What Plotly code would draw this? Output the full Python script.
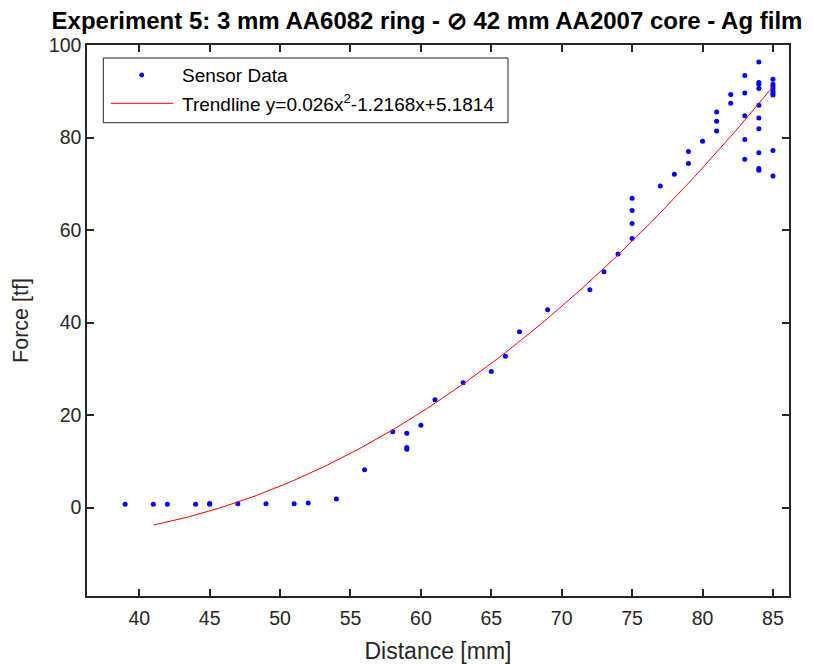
import numpy as np
import plotly.graph_objects as go

distance_mm = [39, 41, 42, 44, 45, 45, 47, 49, 51, 52, 54, 56, 58, 59, 59, 59, 60, 61, 63, 65,
               66, 67, 69, 72, 73, 74, 75, 75, 75, 75, 77, 78, 79, 79, 80, 81, 81, 81, 82, 82,
               83, 83, 83, 83, 83, 84, 84, 84, 84, 84, 84, 84, 84, 84, 84,
               85, 85, 85, 85, 85, 85, 85, 85, 85]
force_tf = [0.73, 0.73, 0.73, 0.73, 0.73, 0.9, 0.86, 0.86, 0.86, 1.0, 1.88, 8.2, 16.4, 16.1, 13.0, 12.6, 17.8, 23.3, 27.0, 29.4,
            32.7, 38.0, 42.8, 47.1, 51.0, 54.8, 58.2, 61.4, 64.2, 66.9, 69.5, 72.05, 74.4, 77.0, 79.2, 81.4, 83.5, 85.5, 87.4, 89.3,
            75.3, 79.6, 84.7, 89.6, 93.4, 72.9, 73.3, 76.7, 81.9, 84.2, 87.0, 90.6, 91.5, 91.9, 96.3,
            71.7, 77.2, 89.2, 89.5, 90.0, 90.5, 91.0, 91.5, 92.6]

x_ticks = [40, 45, 50, 55, 60, 65, 70, 75, 80, 85]
y_ticks = [0, 20, 40, 60, 80, 100]
trend_x_range = [41, 85]

coef = np.polyfit(distance_mm, force_tf, 2)
tx = np.linspace(trend_x_range[0], trend_x_range[1], 200)
ty = np.polyval(coef, tx)

fig = go.Figure()
fig.add_trace(go.Scatter(x=distance_mm, y=force_tf, mode="markers",
                         marker=dict(color="#0000ff", size=5), showlegend=False))
fig.add_trace(go.Scatter(x=tx, y=ty, mode="lines",
                         line=dict(color="#ff0000", width=1), showlegend=False))

FONT = "Liberation Sans, Arial, sans-serif"
axis_common = dict(showline=True, linecolor="#262626", linewidth=1.5, mirror="ticks",
                   ticks="inside", ticklen=7, tickcolor="#262626", tickwidth=1.5,
                   showgrid=False, zeroline=False, automargin=False,
                   tickfont=dict(family=FONT, size=19.5, color="#262626"))

fig.update_xaxes(range=[36.29, 86.14], tickvals=x_ticks, ticklabelstandoff=4,
                 title=dict(text="Distance [mm]", font=dict(family=FONT, size=23, color="#262626"), standoff=18),
                 **axis_common)
fig.update_yaxes(range=[-19.1, 100], tickvals=y_ticks,
                 title=dict(text="Force [tf]", font=dict(family=FONT, size=21.5, color="#262626"), standoff=14),
                 **axis_common)

# page offset (browser body margin) of 8 px
OFF = 8
W, H = 814 - OFF, 664 - OFF
L, T, R, B = 87 - OFF, 45 - OFF, 25, 68
PW, PH = W - L - R, H - T - B

# manual legend box (MATLAB style), positions given in screen pixels
def px2x(px):
    return (px - 87) / PW

def py2y(py):
    return (596 - py) / PH

shapes = [
    dict(type="rect", xref="paper", yref="paper", x0=px2x(103.3), x1=px2x(508), y0=py2y(122.7), y1=py2y(58),
         line=dict(color="#262626", width=1), fillcolor="white", layer="above"),
    dict(type="circle", xref="paper", yref="paper", x0=px2x(139.7), x1=px2x(143.7), y0=py2y(77), y1=py2y(73),
         line=dict(color="#0000ff", width=1), fillcolor="#0000ff", layer="above"),
    dict(type="line", xref="paper", yref="paper", x0=px2x(110.7), x1=px2x(173.3), y0=py2y(103.3), y1=py2y(103.3),
         line=dict(color="#ff0000", width=1), layer="above"),
]
annotations = [
    dict(xref="paper", yref="paper", x=px2x(180), y=py2y(75.5), xanchor="left", yanchor="middle",
         text="Sensor Data", showarrow=False, font=dict(family=FONT, size=19, color="black")),
    dict(xref="paper", yref="paper", x=px2x(180), y=py2y(103.3), xanchor="left", yanchor="middle",
         text="Trendline y=0.026x<sup>2</sup>-1.2168x+5.1814", showarrow=False,
         font=dict(family=FONT, size=19, color="black")),
]

fig.update_layout(
    width=W, height=H,
    margin=dict(l=L, r=R, t=T, b=B, autoexpand=False),
    paper_bgcolor="white", plot_bgcolor="white",
    title=dict(text="<b>Experiment 5: 3 mm AA6082 ring - ⊘ 42 mm AA2007 core - Ag film</b>",
               x=(427 - OFF) / W, xref="container", xanchor="center",
               y=1 - (21 - OFF) / H, yref="container", yanchor="middle",
               font=dict(family=FONT, size=24, color="black")),
    shapes=shapes, annotations=annotations,
)

fig.write_html("out.html")
